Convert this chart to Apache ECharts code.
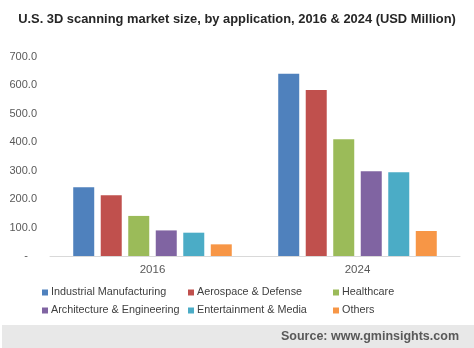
<!DOCTYPE html>
<html><head><meta charset="utf-8">
<script src="https://cdn.jsdelivr.net/npm/echarts@6/dist/echarts.min.js"></script>
<style>html,body{margin:0;padding:0;background:#fff}#c{width:474px;height:348px}</style>
</head><body><div id="c"></div>
<script>
const categories = ['2016', '2024'];
const seriesNames = ['Industrial Manufacturing', 'Aerospace & Defense', 'Healthcare', 'Architecture & Engineering', 'Entertainment & Media', 'Others'];
const industrial = [242, 641];
const aerospace = [214, 584];
const healthcare = [141, 411];
const architecture = [90, 298];
const entertainment = [82, 295];
const others = [41, 88];
const yTicks = [0, 100, 200, 300, 400, 500, 600, 700];
const colors = ['#4F81BD', '#C0504D', '#9BBB59', '#8064A2', '#4BACC6', '#F79646'];
const values = [industrial, aerospace, healthcare, architecture, entertainment, others];

const chart = echarts.init(document.getElementById('c'));
const font = 'Liberation Sans, Arial, sans-serif';
const legendLefts = [37, 183, 328];
const legendTops = [282, 300];
const legends = seriesNames.map(function (n, i) {
  return {
    left: legendLefts[i % 3], top: legendTops[Math.floor(i / 3)],
    itemWidth: 6, itemHeight: 6, itemGap: 3, icon: 'rect',
    textStyle: { fontFamily: font, fontSize: 10.8, color: '#404040', padding: [0, 0, 0, -2] },
    data: [n]
  };
});
chart.setOption({
  animation: false,
  title: {
    text: 'U.S. 3D scanning market size, by application, 2016 & 2024 (USD Million)',
    left: 'center', top: 8,
    textStyle: { fontFamily: font, fontSize: 12.9, fontWeight: 'bold', color: '#262626' }
  },
  grid: { left: 50, right: 14, top: 57, bottom: 92, containLabel: false },
  legend: legends,
  xAxis: {
    type: 'category', data: categories,
    axisLine: { lineStyle: { color: '#d9d9d9' } },
    axisTick: { show: false },
    axisLabel: { fontFamily: font, fontSize: 11.5, color: '#595959', margin: 8 }
  },
  yAxis: {
    type: 'value', min: yTicks[0], max: yTicks[yTicks.length - 1], interval: 100,
    splitLine: { show: false }, axisLine: { show: false }, axisTick: { show: false },
    axisLabel: {
      fontFamily: font, fontSize: 11, color: '#595959', margin: 13,
      formatter: function (v) { return v === 0 ? '-   ' : v.toFixed(1); }
    }
  },
  graphic: [
    { type: 'rect', shape: { x: 2, y: 325, width: 472, height: 23 }, style: { fill: '#e8e8e8' }, silent: true },
    { type: 'text', right: 15, top: 330, style: { text: 'Source: www.gminsights.com', fill: '#595959', font: 'bold 12.5px ' + font } }
  ],
  series: seriesNames.map(function (n, i) {
    return { name: n, type: 'bar', data: values[i], barWidth: 21, barGap: '31%',
      itemStyle: { color: colors[i] } };
  })
});
</script></body></html>
